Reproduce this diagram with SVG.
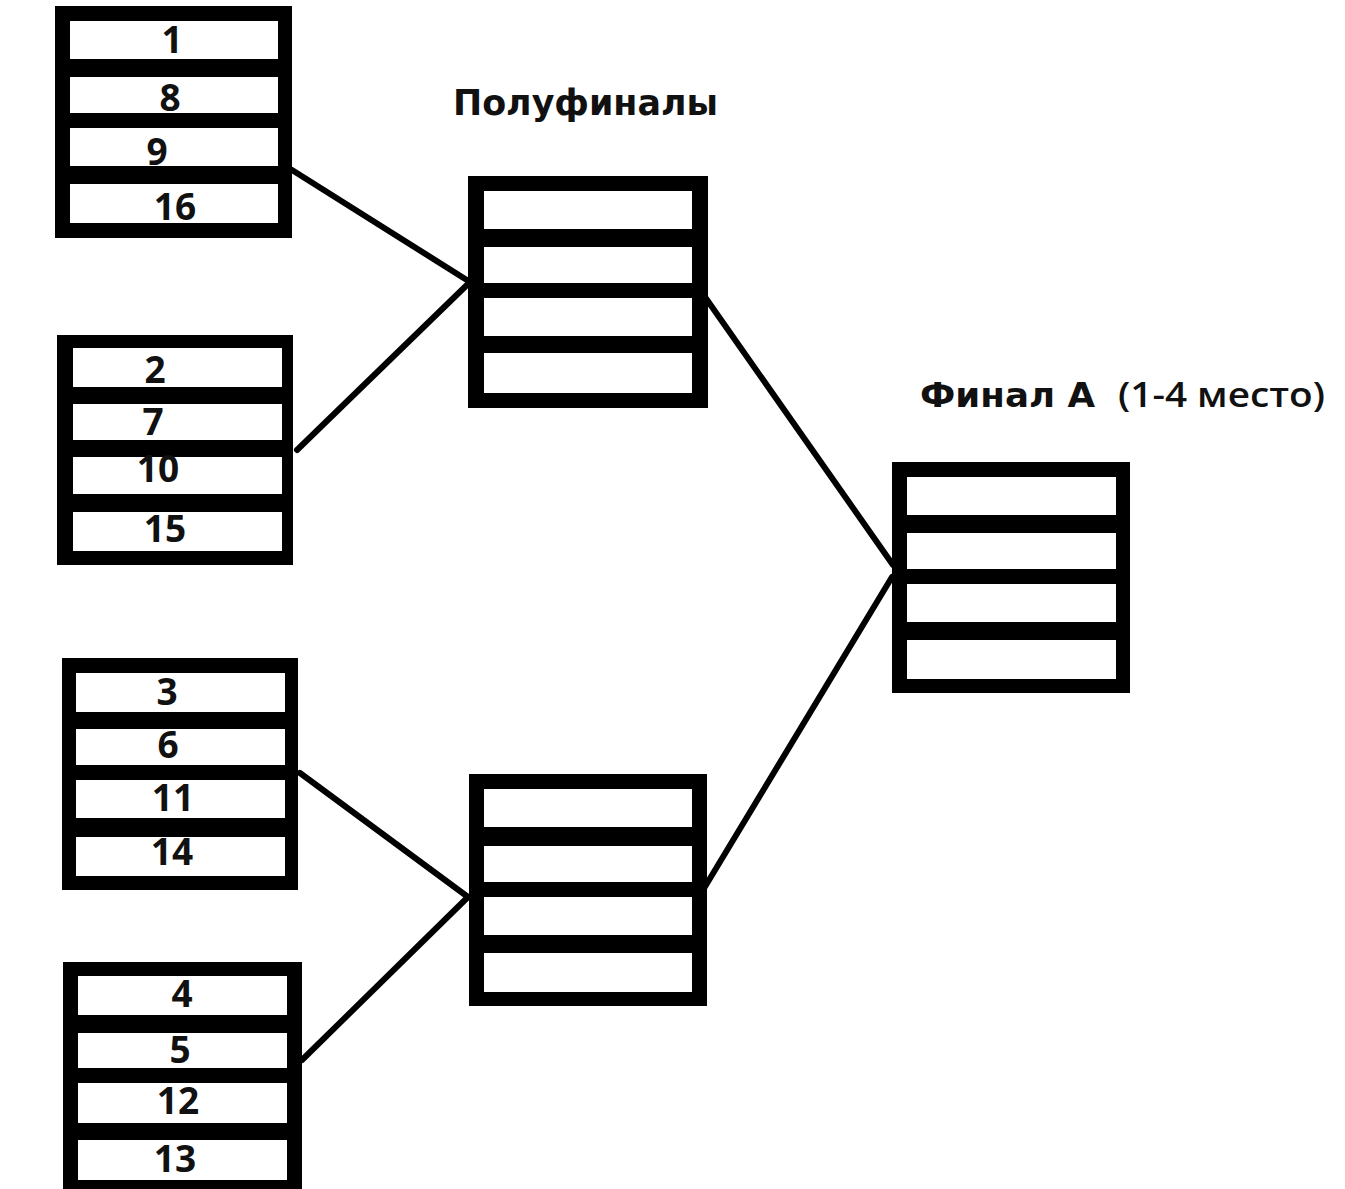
<svg xmlns="http://www.w3.org/2000/svg" width="1345" height="1189" viewBox="0 0 1345 1189">
<style>
.frame{fill:#000}
.row{fill:#fff}
.num{font-family:"Open Sans","Liberation Sans",sans-serif;font-weight:700;font-size:37px;fill:#111;text-anchor:middle}
.title{font-family:"DejaVu Sans","Liberation Sans",sans-serif;font-weight:700;fill:#111}
.sub{font-family:"Open Sans","Liberation Sans",sans-serif;font-weight:600;fill:#111}
.conn{stroke:#000;stroke-width:6;fill:none;stroke-linecap:round}
</style>
<rect width="1345" height="1189" fill="#fff"/>
<g id="connectors">
<line class="conn" x1="292" y1="170" x2="470" y2="282"/>
<line class="conn" x1="297" y1="450" x2="470" y2="282"/>
<line class="conn" x1="300" y1="773" x2="468" y2="897"/>
<line class="conn" x1="302" y1="1060" x2="468" y2="897"/>
<line class="conn" x1="705" y1="297" x2="893" y2="565"/>
<line class="conn" x1="703" y1="890" x2="892" y2="577"/>
</g>
<g id="group1">
<rect class="frame" x="55" y="6" width="237" height="232"/>
<rect class="row" x="70" y="21" width="208" height="38"/>
<rect class="row" x="70" y="77" width="208" height="36"/>
<rect class="row" x="70" y="128" width="208" height="38"/>
<rect class="row" x="70" y="184" width="208" height="39"/>
<text class="num" x="172" y="53">1</text>
<text class="num" x="170" y="111">8</text>
<text class="num" x="157" y="165">9</text>
<text class="num" x="175" y="220">16</text>
</g>
<g id="group2">
<rect class="frame" x="57" y="335" width="236" height="230"/>
<rect class="row" x="73" y="348" width="209" height="39"/>
<rect class="row" x="73" y="404" width="209" height="36"/>
<rect class="row" x="73" y="457" width="209" height="37"/>
<rect class="row" x="73" y="512" width="209" height="39"/>
<text class="num" x="155" y="383">2</text>
<text class="num" x="153" y="435">7</text>
<text class="num" x="158" y="482">10</text>
<text class="num" x="165" y="542">15</text>
</g>
<g id="group3">
<rect class="frame" x="62" y="658" width="236" height="232"/>
<rect class="row" x="76" y="673" width="209" height="39"/>
<rect class="row" x="76" y="729" width="209" height="36"/>
<rect class="row" x="76" y="780" width="209" height="38"/>
<rect class="row" x="76" y="837" width="209" height="39"/>
<text class="num" x="167" y="705">3</text>
<text class="num" x="168" y="758">6</text>
<text class="num" x="173" y="811">11</text>
<text class="num" x="172" y="865">14</text>
</g>
<g id="group4">
<rect class="frame" x="63" y="962" width="239" height="240"/>
<rect class="row" x="78" y="976" width="209" height="39"/>
<rect class="row" x="78" y="1033" width="209" height="35"/>
<rect class="row" x="78" y="1083" width="209" height="40"/>
<rect class="row" x="78" y="1140" width="209" height="40"/>
<text class="num" x="182" y="1007">4</text>
<text class="num" x="180" y="1063">5</text>
<text class="num" x="178" y="1114">12</text>
<text class="num" x="175" y="1172">13</text>
</g>
<g id="semifinal1">
<rect class="frame" x="468" y="176" width="240" height="232"/>
<rect class="row" x="484" y="191" width="208" height="38"/>
<rect class="row" x="484" y="247" width="208" height="36"/>
<rect class="row" x="484" y="298" width="208" height="38"/>
<rect class="row" x="484" y="353" width="208" height="40"/>
</g>
<g id="semifinal2">
<rect class="frame" x="469" y="774" width="238" height="232"/>
<rect class="row" x="484" y="789" width="208" height="38"/>
<rect class="row" x="484" y="846" width="208" height="36"/>
<rect class="row" x="484" y="897" width="208" height="38"/>
<rect class="row" x="484" y="953" width="208" height="39"/>
</g>
<g id="final">
<rect class="frame" x="892" y="462" width="238" height="231"/>
<rect class="row" x="907" y="477" width="209" height="38"/>
<rect class="row" x="907" y="533" width="209" height="36"/>
<rect class="row" x="907" y="584" width="209" height="38"/>
<rect class="row" x="907" y="640" width="209" height="39"/>
</g>
<g id="labels">
<text class="title" x="453" y="115" font-size="35" textLength="265" lengthAdjust="spacingAndGlyphs">Полуфиналы</text>
<text class="title" x="920" y="407" font-size="33" textLength="175" lengthAdjust="spacingAndGlyphs">Финал А</text>
<text class="sub" x="1118" y="407" font-size="34" textLength="207" lengthAdjust="spacingAndGlyphs">(1-4 место)</text>
</g>
</svg>
